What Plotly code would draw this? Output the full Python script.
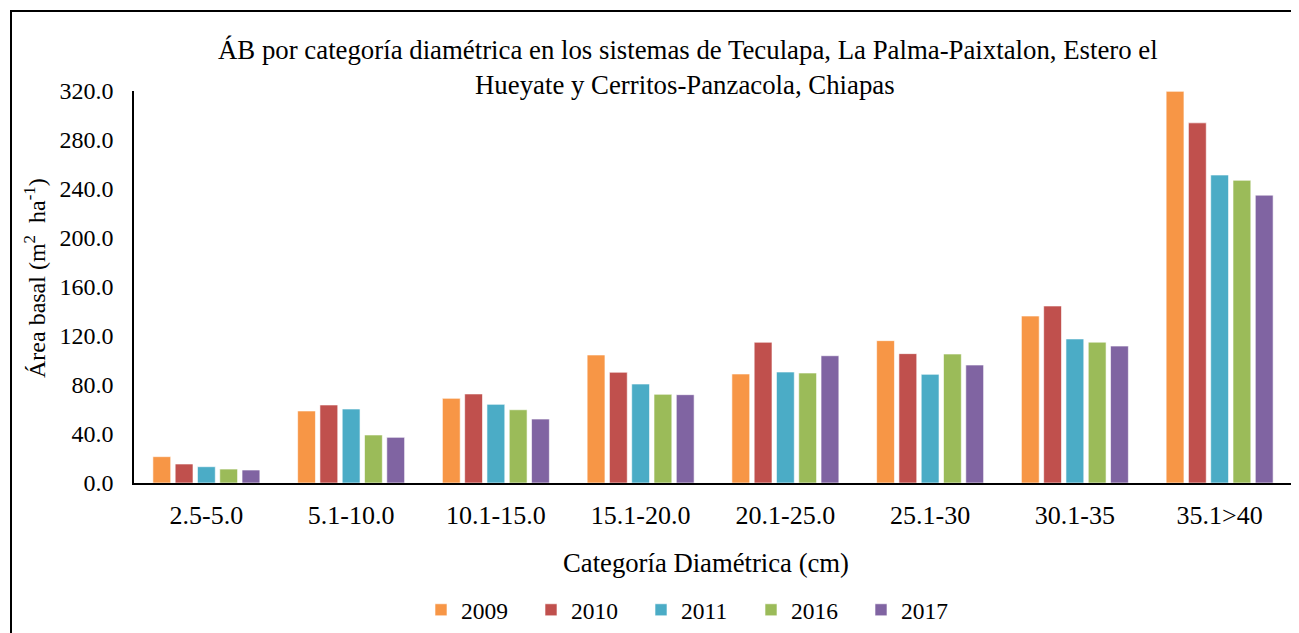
import plotly.graph_objects as go

categories = ["2.5-5.0", "5.1-10.0", "10.1-15.0", "15.1-20.0", "20.1-25.0", "25.1-30", "30.1-35", "35.1>40"]
years = ["2009", "2010", "2011", "2016", "2017"]
v2009 = [21.5, 58.8, 69.1, 104.5, 89.0, 116.2, 136.3, 319.7]
v2010 = [15.5, 63.7, 72.7, 90.4, 114.9, 105.6, 144.5, 294.0]
v2011 = [13.3, 60.4, 64.2, 80.8, 90.6, 88.7, 117.6, 251.4]
v2016 = [11.4, 39.2, 59.8, 72.4, 89.8, 105.3, 115.0, 247.1]
v2017 = [10.6, 37.3, 52.2, 72.1, 103.9, 96.3, 111.8, 235.0]
series = [v2009, v2010, v2011, v2016, v2017]
colors = ["#F79646", "#C0504D", "#4BACC6", "#9BBB59", "#8064A2"]

FONT = "Liberation Serif, Times New Roman, serif"

# the page body has an 8px margin: figure sized to fit inside the 1299x633 window
W, H = 1291, 625
L, R, T, B = 126, 7, 83, 150
PW, PH = W - L - R, H - T - B


def px(xf):
    return (xf - L) / PW


def py(yf):
    return (H - B - yf) / PH


fig = go.Figure()
for name, vals, col in zip(years, series, colors):
    fig.add_trace(go.Bar(
        x=categories, y=vals, name=name,
        marker=dict(color=col, line=dict(color="rgba(255,255,255,0.6)", width=1)),
    ))

fig.update_layout(
    width=W, height=H, autosize=False,
    paper_bgcolor="white", plot_bgcolor="white",
    margin=dict(l=L, r=R, t=T, b=B, pad=0),
    barmode="group", bargap=0.23, bargroupgap=0.2,
    font=dict(family=FONT, size=24, color="black"),
    showlegend=True,
    legend=dict(orientation="h", xref="container", yref="container",
                x=413 / W, xanchor="left", y=1 - 602 / H, yanchor="middle",
                entrywidth=65, font=dict(family=FONT, size=23.5), itemwidth=30),
    xaxis=dict(showline=True, linecolor="black", linewidth=2, ticks="",
               showgrid=False, tickfont=dict(size=26), ticklabelstandoff=8),
    yaxis=dict(range=[0, 320], dtick=40, tickformat=".1f", showline=True,
               linecolor="black", linewidth=1.5, ticks="", showgrid=False,
               tickfont=dict(size=24), zeroline=False, ticklabelstandoff=14),
    shapes=[dict(type="rect", xref="paper", yref="paper",
                 x0=px(3), x1=px(W + 200), y0=py(H + 200), y1=py(3),
                 line=dict(color="black", width=2), fillcolor="rgba(0,0,0,0)")],
    annotations=[
        dict(text="ÁB por categoría diamétrica en los sistemas de Teculapa, La Palma-Paixtalon, Estero el",
             xref="paper", yref="paper", x=px(679.5), y=py(42),
             xanchor="center", yanchor="middle", showarrow=False, font=dict(size=26.8)),
        dict(text="Hueyate y Cerritos-Panzacola, Chiapas",
             xref="paper", yref="paper", x=px(677), y=py(77),
             xanchor="center", yanchor="middle", showarrow=False, font=dict(size=26.8)),
        dict(text="Categoría Diamétrica (cm)",
             xref="paper", yref="paper", x=px(697.5), y=py(555),
             xanchor="center", yanchor="middle", showarrow=False, font=dict(size=26.7)),
        dict(text="Área basal (m<sup>2</sup>  ha<sup>-1</sup>)", textangle=-90,
             xref="paper", yref="paper", x=px(27), y=py(270),
             xanchor="center", yanchor="middle", showarrow=False, font=dict(size=24)),
    ],
)

fig.write_html("out.html")
